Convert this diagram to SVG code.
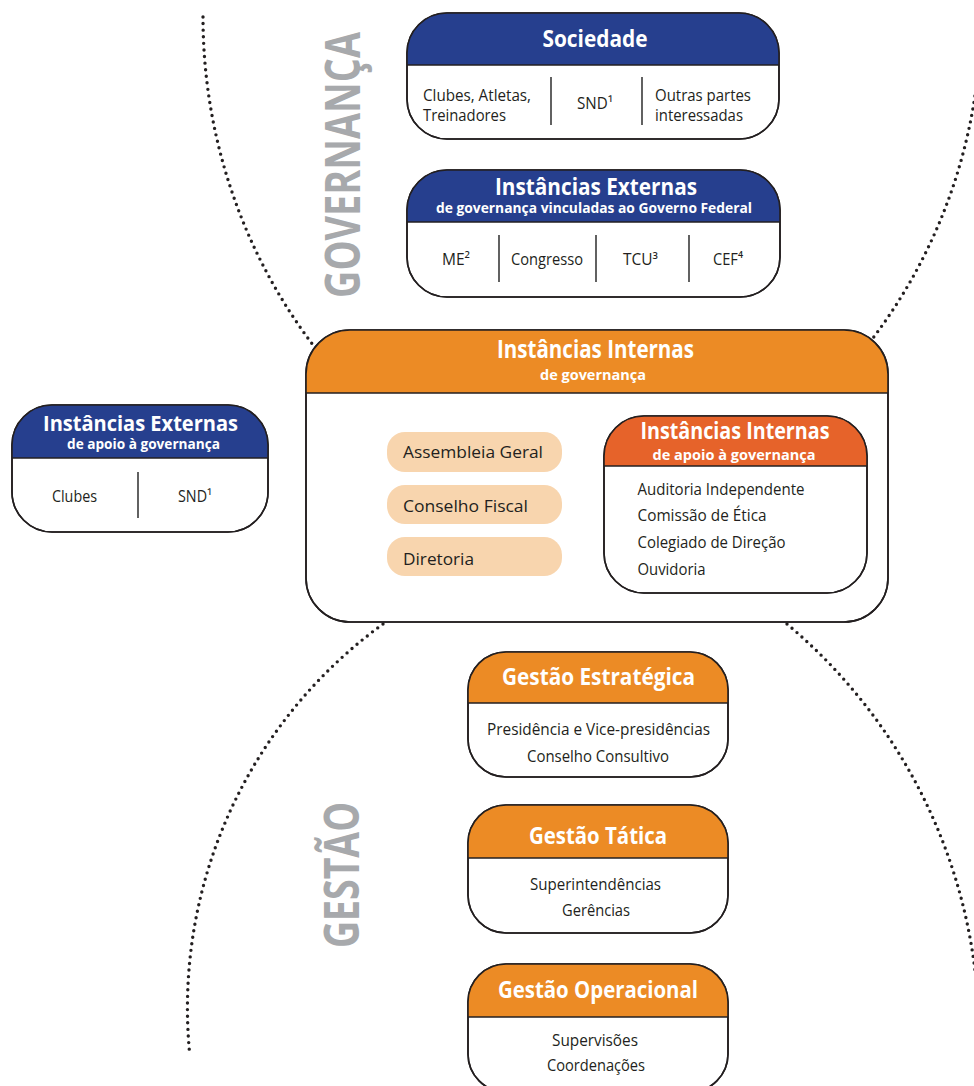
<svg xmlns="http://www.w3.org/2000/svg" width="974" height="1086" viewBox="0 0 974 1086">
  <style>
    .box { fill: #ffffff; stroke: #231f20; stroke-width: 1.6; }
    .rule { stroke: #231f20; stroke-width: 1.6; }
    .sep { stroke: #3a3a3a; stroke-width: 1.6; }
    .blue { fill: #263f8e; }
    .orange { fill: #ec8b25; }
    .red { fill: #e6632a; }
    .pill { fill: #f8d5ae; }
    .dots { fill: none; stroke: #231f20; stroke-width: 3.4; stroke-linecap: round; stroke-dasharray: 0 6.6; }
    text { font-family: "Open Sans", "Noto Sans", "Liberation Sans", sans-serif; }
    .t { font-weight: 700; fill: #ffffff; text-anchor: middle; }
    .b { fill: #231f20; font-size: 16px; }
    .c { text-anchor: middle; }
    .big { font-weight: 700; fill: #a7a9ac; font-size: 48px; }
  </style>

  <!-- dotted arcs bounding the governance and management areas -->
  <g id="connectors">
    <path class="dots" d="M203,17 A545,545 0 0 0 313,345"/>
    <path class="dots" d="M981,17 A534,534 0 0 1 873,338"/>
    <path class="dots" d="M383,624 A474.5,474.5 0 0 0 189.5,1052"/>
    <path class="dots" d="M787,624 A537,537 0 0 1 979,1035"/>
  </g>

  <!-- side labels -->
  <g id="label-governanca">
    <text class="big" transform="translate(360,298) rotate(-90)" textLength="266" lengthAdjust="spacingAndGlyphs">GOVERNANÇA</text>
  </g>
  <g id="label-gestao">
    <text class="big" transform="translate(359,948) rotate(-90)" textLength="146" lengthAdjust="spacingAndGlyphs">GESTÃO</text>
  </g>

  <!-- Sociedade -->
  <g id="sociedade">
    <rect class="box" x="407" y="13" width="372" height="126" rx="40"/>
    <path class="blue" d="M407,65 V53 A40,40 0 0 1 447,13 H739 A40,40 0 0 1 779,53 V65 Z"/>
    <rect x="407" y="13" width="372" height="126" rx="40" fill="none" stroke="#231f20" stroke-width="1.6"/>
    <line class="rule" x1="407" y1="65" x2="779" y2="65"/>
    <text class="t" x="595" y="47" font-size="24" textLength="105" lengthAdjust="spacingAndGlyphs">Sociedade</text>
    <line class="sep" x1="551" y1="77" x2="551" y2="125"/>
    <line class="sep" x1="642" y1="77" x2="642" y2="125"/>
    <text class="b" x="423" y="101" textLength="108" lengthAdjust="spacingAndGlyphs">Clubes, Atletas,</text>
    <text class="b" x="423" y="121" textLength="83" lengthAdjust="spacingAndGlyphs">Treinadores</text>
    <text class="b c" x="595" y="109" textLength="36" lengthAdjust="spacingAndGlyphs">SND¹</text>
    <text class="b" x="655" y="101" textLength="96" lengthAdjust="spacingAndGlyphs">Outras partes</text>
    <text class="b" x="655" y="121" textLength="88" lengthAdjust="spacingAndGlyphs">interessadas</text>
  </g>

  <!-- Instâncias Externas vinculadas ao Governo Federal -->
  <g id="instancias-externas-governo">
    <rect class="box" x="407" y="170" width="373" height="127" rx="40"/>
    <path class="blue" d="M407,222 V210 A40,40 0 0 1 447,170 H740 A40,40 0 0 1 780,210 V222 Z"/>
    <rect x="407" y="170" width="373" height="127" rx="40" fill="none" stroke="#231f20" stroke-width="1.6"/>
    <line class="rule" x1="407" y1="222" x2="780" y2="222"/>
    <text class="t" x="596" y="195" font-size="24" textLength="202" lengthAdjust="spacingAndGlyphs">Instâncias Externas</text>
    <text class="t" x="594" y="213" font-size="14.5" textLength="316" lengthAdjust="spacingAndGlyphs">de governança vinculadas ao Governo Federal</text>
    <line class="sep" x1="499" y1="235" x2="499" y2="282"/>
    <line class="sep" x1="596" y1="235" x2="596" y2="282"/>
    <line class="sep" x1="689" y1="235" x2="689" y2="282"/>
    <text class="b c" x="456" y="265" textLength="28" lengthAdjust="spacingAndGlyphs">ME²</text>
    <text class="b c" x="547" y="265" textLength="72" lengthAdjust="spacingAndGlyphs">Congresso</text>
    <text class="b c" x="640.5" y="265" textLength="35" lengthAdjust="spacingAndGlyphs">TCU³</text>
    <text class="b c" x="728" y="265" textLength="30" lengthAdjust="spacingAndGlyphs">CEF⁴</text>
  </g>

  <!-- Instâncias Externas de apoio à governança -->
  <g id="instancias-externas-apoio">
    <rect class="box" x="12" y="405" width="256" height="127" rx="40"/>
    <path class="blue" d="M12,458 V445 A40,40 0 0 1 52,405 H228 A40,40 0 0 1 268,445 V458 Z"/>
    <rect x="12" y="405" width="256" height="127" rx="40" fill="none" stroke="#231f20" stroke-width="1.6"/>
    <line class="rule" x1="12" y1="458" x2="268" y2="458"/>
    <text class="t" x="140.5" y="431" font-size="22" textLength="195" lengthAdjust="spacingAndGlyphs">Instâncias Externas</text>
    <text class="t" x="143.5" y="449" font-size="14" textLength="153" lengthAdjust="spacingAndGlyphs">de apoio à governança</text>
    <line class="sep" x1="138" y1="472" x2="138" y2="518"/>
    <text class="b c" x="74.5" y="502" textLength="45" lengthAdjust="spacingAndGlyphs">Clubes</text>
    <text class="b c" x="195" y="502" textLength="34" lengthAdjust="spacingAndGlyphs">SND¹</text>
  </g>

  <!-- Instâncias Internas de governança -->
  <g id="instancias-internas">
    <rect class="box" x="306" y="330" width="582" height="292" rx="44"/>
    <path class="orange" d="M306,393 V374 A44,44 0 0 1 350,330 H844 A44,44 0 0 1 888,374 V393 Z"/>
    <rect x="306" y="330" width="582" height="292" rx="44" fill="none" stroke="#231f20" stroke-width="1.6"/>
    <line class="rule" x1="306" y1="393" x2="888" y2="393"/>
    <text class="t" x="595.5" y="358" font-size="25" textLength="197" lengthAdjust="spacingAndGlyphs">Instâncias Internas</text>
    <text class="t" x="593" y="380" font-size="15" textLength="106" lengthAdjust="spacingAndGlyphs">de governança</text>
  </g>

  <g id="assembleia-geral">
    <rect class="pill" x="387" y="432" width="175" height="40" rx="18"/>
    <text class="b" x="403" y="458" font-size="20" textLength="140" lengthAdjust="spacingAndGlyphs">Assembleia Geral</text>
  </g>
  <g id="conselho-fiscal">
    <rect class="pill" x="387" y="485" width="175" height="39" rx="18"/>
    <text class="b" x="403" y="511.5" font-size="20" textLength="125" lengthAdjust="spacingAndGlyphs">Conselho Fiscal</text>
  </g>
  <g id="diretoria">
    <rect class="pill" x="387" y="537" width="175" height="39" rx="18"/>
    <text class="b" x="403" y="565" font-size="20" textLength="71" lengthAdjust="spacingAndGlyphs">Diretoria</text>
  </g>

  <!-- Instâncias Internas de apoio à governança -->
  <g id="instancias-internas-apoio">
    <rect class="box" x="604" y="416" width="263" height="177" rx="40"/>
    <path class="red" d="M604,466 V456 A40,40 0 0 1 644,416 H827 A40,40 0 0 1 867,456 V466 Z"/>
    <rect x="604" y="416" width="263" height="177" rx="40" fill="none" stroke="#231f20" stroke-width="1.6"/>
    <line class="rule" x1="604" y1="466" x2="867" y2="466"/>
    <text class="t" x="735" y="439" font-size="23" textLength="189" lengthAdjust="spacingAndGlyphs">Instâncias Internas</text>
    <text class="t" x="734" y="460" font-size="14.5" textLength="163" lengthAdjust="spacingAndGlyphs">de apoio à governança</text>
    <text class="b" x="637.5" y="495" font-size="17.5" textLength="167" lengthAdjust="spacingAndGlyphs">Auditoria Independente</text>
    <text class="b" x="637.5" y="521" font-size="17.5" textLength="129" lengthAdjust="spacingAndGlyphs">Comissão de Ética</text>
    <text class="b" x="637.5" y="548" font-size="17.5" textLength="148" lengthAdjust="spacingAndGlyphs">Colegiado de Direção</text>
    <text class="b" x="637.5" y="575" font-size="17.5" textLength="68" lengthAdjust="spacingAndGlyphs">Ouvidoria</text>
  </g>

  <!-- Gestão Estratégica -->
  <g id="gestao-estrategica">
    <rect class="box" x="468" y="652" width="260" height="125" rx="38"/>
    <path class="orange" d="M468,703 V690 A38,38 0 0 1 506,652 H690 A38,38 0 0 1 728,690 V703 Z"/>
    <rect x="468" y="652" width="260" height="125" rx="38" fill="none" stroke="#231f20" stroke-width="1.6"/>
    <line class="rule" x1="468" y1="703" x2="728" y2="703"/>
    <text class="t" x="598.5" y="685" font-size="24" textLength="193" lengthAdjust="spacingAndGlyphs">Gestão Estratégica</text>
    <text class="b c" x="598.5" y="735" textLength="223" lengthAdjust="spacingAndGlyphs">Presidência e Vice-presidências</text>
    <text class="b c" x="598" y="762" textLength="142" lengthAdjust="spacingAndGlyphs">Conselho Consultivo</text>
  </g>

  <!-- Gestão Tática -->
  <g id="gestao-tatica">
    <rect class="box" x="468" y="805" width="260" height="128" rx="38"/>
    <path class="orange" d="M468,858 V843 A38,38 0 0 1 506,805 H690 A38,38 0 0 1 728,843 V858 Z"/>
    <rect x="468" y="805" width="260" height="128" rx="38" fill="none" stroke="#231f20" stroke-width="1.6"/>
    <line class="rule" x1="468" y1="858" x2="728" y2="858"/>
    <text class="t" x="598" y="844" font-size="24" textLength="138" lengthAdjust="spacingAndGlyphs">Gestão Tática</text>
    <text class="b c" x="595.5" y="890" textLength="131" lengthAdjust="spacingAndGlyphs">Superintendências</text>
    <text class="b c" x="596" y="916" textLength="68" lengthAdjust="spacingAndGlyphs">Gerências</text>
  </g>

  <!-- Gestão Operacional -->
  <g id="gestao-operacional">
    <rect class="box" x="468" y="964" width="260" height="128" rx="38"/>
    <path class="orange" d="M468,1017 V1002 A38,38 0 0 1 506,964 H690 A38,38 0 0 1 728,1002 V1017 Z"/>
    <rect x="468" y="964" width="260" height="128" rx="38" fill="none" stroke="#231f20" stroke-width="1.6"/>
    <line class="rule" x1="468" y1="1017" x2="728" y2="1017"/>
    <text class="t" x="598" y="998" font-size="24" textLength="200" lengthAdjust="spacingAndGlyphs">Gestão Operacional</text>
    <text class="b c" x="595" y="1046" textLength="86" lengthAdjust="spacingAndGlyphs">Supervisões</text>
    <text class="b c" x="596" y="1071" textLength="98" lengthAdjust="spacingAndGlyphs">Coordenações</text>
  </g>
</svg>
